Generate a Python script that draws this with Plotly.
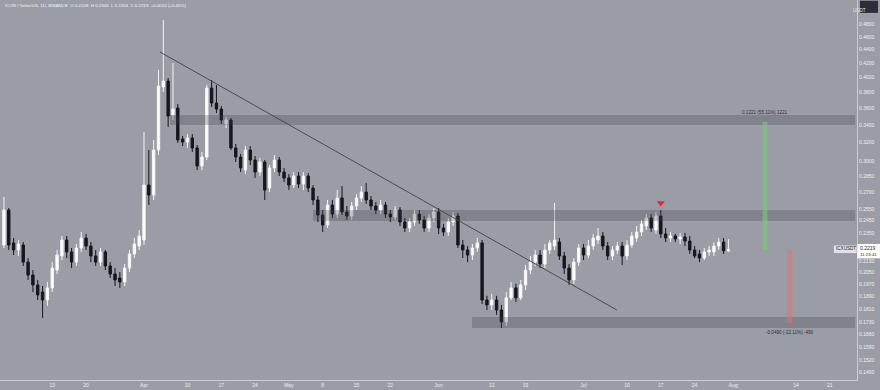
import numpy as np
import pandas as pd
import plotly.graph_objects as go

# ---------------- data ----------------
dates = pd.date_range("2023-03-03", "2023-07-31", freq="D")

opens = [
    .2254, .2541, .2270, .2216, .2254, .2126, .2034, .1966, .1919, .1867,
    .1946, .2069, .2171, .2293, .2201, .2126, .2231, .2309, .2246, .2171,
    .2126, .2201, .2098, .2041, .2013, .1986, .2083, .2186, .2246,
    .2293, .2768, .2675, .3121, .3872, .3952, .3518, .3604, .3241, .3208,
    .3252, .3143, .2955, .3047, .3859, .3666, .3591, .3412, .3459, .3143,
    .3047, .2914, .3121, .3016, .2894, .2995, .2740, .2935, .3016, .2894,
    .2836, .2768, .2855, .2778, .2855, .2740, .2630, .2498, .2414, .2585,
    .2506, .2648, .2524, .2489, .2576, .2648, .2702, .2630, .2576, .2541,
    .2585, .2506, .2481, .2541, .2439, .2389, .2439, .2506, .2456, .2389,
    .2472, .2524, .2389, .2357, .2439, .2489, .2254, .2216, .2178, .2231,
    .2270, .1867, .1836, .1867, .1804, .1732, .1881, .1946, .1881, .1966,
    .2069, .2126, .2178, .2112, .2216, .2246, .2277, .2171, .2083, .2000,
    .2126, .2231, .2178, .2246, .2293, .2325, .2246, .2171, .2216, .2246,
    .2171, .2254, .2309, .2357, .2406, .2472, .2373, .2489, .2341, .2309,
    .2325, .2301, .2317, .2285, .2216, .2186, .2156, .2201, .2201, .2246,
    .2277, .2208,
]
highs = [
    .2657, .2559, .2309, .2293, .2277, .2156, .2069, .2000, .1959, .1986,
    .2126, .2216, .2325, .2325, .2231, .2262, .2357, .2341, .2277, .2216,
    .2231, .2216, .2126, .2083, .2055, .2112, .2216, .2309, .2373,
    .3319, .3121, .3230, .4105, .4871, .3994, .4204, .3654, .3275, .3296,
    .3296, .3175, .3100, .3899, .3966, .3899, .3629, .3494, .3482, .3186,
    .3079, .3164, .3164, .3058, .3037, .3016, .2965, .3068, .3047, .2935,
    .2874, .2894, .2894, .2894, .2884, .2768, .2666, .2541, .2630, .2630,
    .2721, .2759, .2576, .2612, .2684, .2759, .2787, .2666, .2612, .2630,
    .2612, .2541, .2576, .2567, .2472, .2472, .2541, .2541, .2489, .2506,
    .2559, .2559, .2423, .2472, .2524, .2515, .2293, .2246, .2262, .2309,
    .2293, .1894, .1906, .1894, .1836, .1919, .1986, .1973, .2000, .2105,
    .2171, .2216, .2216, .2262, .2293, .2603, .2309, .2201, .2112, .2156,
    .2262, .2262, .2293, .2341, .2389, .2357, .2277, .2246, .2277, .2277,
    .2293, .2357, .2406, .2456, .2506, .2506, .2524, .2541, .2389, .2357,
    .2341, .2349, .2349, .2325, .2246, .2216, .2231, .2246, .2277, .2309,
    .2309, .2300,
]
lows = [
    .2231, .2216, .2178, .2171, .2098, .2000, .1919, .1867, .1756, .1830,
    .1919, .2041, .2141, .2156, .2083, .2098, .2201, .2216, .2126, .2098,
    .2098, .2069, .2013, .1959, .1946, .1959, .2055, .2156, .2216,
    .2254, .2585, .2630, .3068, .3807, .3377, .3459, .3197, .3164, .3143,
    .3100, .2914, .2914, .3016, .3616, .3542, .3412, .3365, .3121, .2995,
    .2894, .2874, .2965, .2836, .2855, .2630, .2702, .2894, .2855, .2797,
    .2721, .2740, .2740, .2721, .2702, .2585, .2439, .2357, .2389, .2472,
    .2472, .2498, .2456, .2456, .2541, .2612, .2594, .2541, .2506, .2506,
    .2472, .2439, .2456, .2406, .2357, .2357, .2406, .2423, .2357, .2357,
    .2439, .2341, .2325, .2325, .2406, .2231, .2156, .2126, .2141, .2201,
    .1842, .1804, .1804, .1774, .1696, .1708, .1867, .1854, .1867, .1932,
    .2041, .2098, .2083, .2083, .2186, .2216, .2141, .2041, .1966, .1973,
    .2098, .2141, .2156, .2216, .2262, .2216, .2141, .2141, .2186, .2105,
    .2141, .2231, .2277, .2325, .2373, .2357, .2341, .2309, .2277, .2277,
    .2277, .2262, .2246, .2186, .2156, .2126, .2141, .2171, .2171, .2216,
    .2186, .2204,
]
closes = [
    .2541, .2254, .2216, .2262, .2126, .2034, .1966, .1900, .1867, .1946,
    .2083, .2178, .2293, .2201, .2126, .2231, .2309, .2246, .2171, .2126,
    .2201, .2098, .2041, .2000, .1986, .2083, .2186, .2262, .2325,
    .2768, .2675, .3121, .3886, .3952, .3506, .3591, .3230, .3208, .3252,
    .3143, .2955, .3047, .3859, .3666, .3591, .3459, .3459, .3143, .3047,
    .2935, .3121, .3016, .2894, .2995, .2721, .2935, .3016, .2894, .2836,
    .2768, .2855, .2778, .2855, .2740, .2630, .2498, .2414, .2585, .2506,
    .2648, .2524, .2489, .2576, .2648, .2702, .2630, .2576, .2541, .2585,
    .2506, .2481, .2541, .2439, .2389, .2439, .2506, .2456, .2389, .2472,
    .2524, .2389, .2357, .2439, .2489, .2254, .2216, .2178, .2231, .2270,
    .1867, .1836, .1867, .1804, .1732, .1881, .1946, .1881, .1966, .2069,
    .2126, .2178, .2112, .2216, .2270, .2293, .2171, .2083, .2000, .2126,
    .2231, .2178, .2246, .2309, .2325, .2246, .2171, .2216, .2246, .2171,
    .2254, .2325, .2357, .2423, .2472, .2389, .2489, .2341, .2309, .2325,
    .2301, .2317, .2285, .2216, .2171, .2156, .2201, .2216, .2246, .2277,
    .2209, .2219,
]

# horizontal zones: (start date, low price, high price)
zone_starts = ["2023-04-06 10:00", "2023-05-06 00:00", "2023-06-07 22:00"]
zone_lows = [0.3400, 0.2447, 0.1696]
zone_highs = [0.3518, 0.2541, 0.1762]
zone_end = "2023-08-26 06:00"

# descending trendline
trend_dates = ["2023-04-04 07:30", "2023-07-07 22:00"]
trend_prices = [0.4366, 0.1804]

# measurement projections
measure_base = 0.2216
measure_up = 0.3437
measure_down = 0.1726
measure_up_text = "0.1221 (55.11%) 1221"
measure_down_text = "-0.0490 (-22.11%) -490"

# signal marker
signal_date = "2023-07-17"
signal_price = 0.2603

# axis ticks
y_ticks = [0.4800, 0.4600, 0.4400, 0.4200, 0.4000, 0.3800, 0.3600,
           0.3400, 0.3200, 0.3000, 0.2850, 0.2700, 0.2550, 0.2450, 0.2350,
           0.2130, 0.2050, 0.1970, 0.1890, 0.1810, 0.1730, 0.1660, 0.1590,
           0.1520, 0.1460]
x_tick_dates = ["2023-03-13", "2023-03-20", "2023-04-01", "2023-04-10",
                "2023-04-17", "2023-04-24", "2023-05-01", "2023-05-08",
                "2023-05-15", "2023-05-22", "2023-06-01", "2023-06-12",
                "2023-06-19", "2023-07-01", "2023-07-10", "2023-07-17",
                "2023-07-24", "2023-08-01", "2023-08-14", "2023-08-21"]
x_tick_text = ["13", "20", "Apr", "10", "17", "24", "May", "8", "15", "22",
               "Jun", "12", "19", "Jul", "10", "17", "24", "Aug", "14", "21"]

header = ("ICON / TetherUS, 1D, BINANCE  O 0.2208  H 0.2300  "
          "L 0.2204  C 0.2219  +0.0010 (+0.45%)")

# ---------------- figure ----------------
BG = "#9a9da5"
ZONE = "rgba(60,63,72,0.28)"
FONT = "Liberation Sans"

fig = go.Figure()

for s, lo, hi in zip(zone_starts, zone_lows, zone_highs):
    fig.add_trace(go.Scatter(
        x=[s, zone_end, zone_end, s, s], y=[lo, lo, hi, hi, lo],
        fill="toself", fillcolor=ZONE, mode="lines",
        line=dict(width=0), hoverinfo="skip", showlegend=False))

fig.add_trace(go.Candlestick(
    x=dates, open=opens, high=highs, low=lows, close=closes,
    increasing=dict(line=dict(color="#f4f4f4", width=1), fillcolor="#ffffff"),
    decreasing=dict(line=dict(color="#15171e", width=1), fillcolor="#15171e"),
    whiskerwidth=0, showlegend=False, hoverinfo="skip"))

fig.add_trace(go.Scatter(
    x=trend_dates, y=trend_prices, mode="lines",
    line=dict(color="#40434b", width=0.9), hoverinfo="skip", showlegend=False))

# measurement bars
up_x0, up_x1 = pd.Timestamp("2023-08-07 02:00"), pd.Timestamp("2023-08-08 02:00")
dn_x0, dn_x1 = pd.Timestamp("2023-08-12 05:00"), pd.Timestamp("2023-08-13 05:00")
fig.add_trace(go.Scatter(
    x=[up_x0, up_x1, up_x1, up_x0, up_x0],
    y=[measure_base, measure_base, measure_up, measure_up, measure_base],
    fill="toself", fillcolor="rgba(120,205,120,0.55)", mode="lines",
    line=dict(width=0), hoverinfo="skip", showlegend=False))
fig.add_trace(go.Scatter(
    x=[dn_x0, dn_x1, dn_x1, dn_x0, dn_x0],
    y=[measure_base, measure_base, measure_down, measure_down, measure_base],
    fill="toself", fillcolor="rgba(235,110,115,0.55)", mode="lines",
    line=dict(width=0), hoverinfo="skip", showlegend=False))

fig.add_trace(go.Scatter(
    x=[signal_date], y=[signal_price], mode="markers",
    marker=dict(symbol="triangle-down", size=7, color="#e8262e"),
    hoverinfo="skip", showlegend=False))

x_start = pd.Timestamp("2023-04-01") - pd.Timedelta(days=29.814)
x_end = pd.Timestamp("2023-04-01") + pd.Timedelta(days=147.62)
y_lo, y_hi = 0.14196, 0.5217

fig.update_layout(
    width=880, height=390, autosize=False,
    margin=dict(l=0, r=23, t=0, b=10),
    paper_bgcolor=BG, plot_bgcolor=BG,
    font=dict(family=FONT, size=5, color="#eef0f4"),
    xaxis=dict(type="date", range=[x_start, x_end], rangeslider=dict(visible=False),
               showgrid=False, zeroline=False, showline=True, linecolor="#c9cbd1",
               linewidth=1, tickmode="array", tickvals=x_tick_dates,
               ticktext=x_tick_text, ticks="", tickfont=dict(size=5, color="#eef0f4")),
    yaxis=dict(type="log", side="right", range=[np.log10(y_lo), np.log10(y_hi)],
               showgrid=False, zeroline=False, showline=True, linecolor="#c9cbd1",
               linewidth=1, tickmode="array", tickvals=y_ticks,
               ticktext=[f"{v:.4f}" for v in y_ticks], ticks="",
               tickfont=dict(size=5, color="#eef0f4")),
)

annots = [
    dict(text=header, x=0.003, y=0.985, xref="paper", yref="paper",
         xanchor="left", yanchor="middle", showarrow=False,
         font=dict(size=4.4, color="#f6f7f9")),
    dict(text=measure_up_text, x=(up_x0 + (up_x1 - up_x0) / 2), y=np.log10(0.3554),
         xref="x", yref="y", showarrow=False, xanchor="center", yanchor="middle",
         font=dict(size=4.6, color="#2a2d35")),
    dict(text=measure_down_text, x=(dn_x0 + (dn_x1 - dn_x0) / 2), y=np.log10(0.1673),
         xref="x", yref="y", showarrow=False, xanchor="center", yanchor="middle",
         font=dict(size=4.6, color="#2a2d35")),
    dict(text="USDT", x=1.0134, y=0.9829, xref="paper", yref="paper",
         showarrow=False, font=dict(size=4.6, color="#e4e6eb")),
    dict(text="0.2219", x=1.0134, y=np.log10(0.2230), xref="paper", yref="y",
         showarrow=False, xanchor="center", yanchor="middle",
         font=dict(size=5, color="#1c1f27")),
    dict(text="11:23:41", x=1.0134, y=np.log10(0.2183), xref="paper", yref="y",
         showarrow=False, xanchor="center", yanchor="middle",
         font=dict(size=4.4, color="#1c1f27")),
    dict(text="ICXUSDT", x=0.9869, y=np.log10(0.2226), xref="paper", yref="y",
         showarrow=False, xanchor="center", yanchor="middle",
         font=dict(size=4.6, color="#1c1f27")),
]
fig.update_layout(annotations=annots)

fig.update_layout(shapes=[
    dict(type="rect", xref="paper", yref="paper", x0=1.0035, x1=1.0245,
         y0=0.966, y1=0.998, fillcolor="#2a2e39", line=dict(width=0), layer="above"),
    dict(type="rect", xref="paper", yref="paper", x0=1.0005, x1=1.027,
         y0=0.320, y1=0.358, fillcolor="#ffffff", line=dict(width=0), layer="above"),
    dict(type="rect", xref="paper", yref="paper", x0=0.973, x1=0.9995,
         y0=0.334, y1=0.354, fillcolor="#dfe1e6", line=dict(width=0), layer="above"),
])

fig.write_html(
    "out.html",
    config={"displayModeBar": False},
    post_script="document.body.style.margin='0';document.body.style.overflow='hidden';",
)
